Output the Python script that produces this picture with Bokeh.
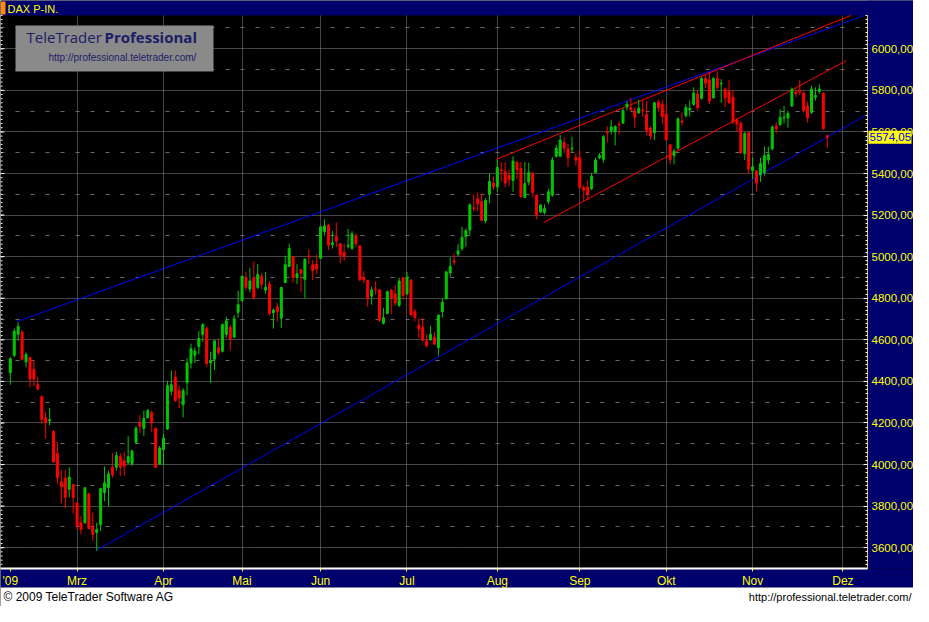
from bokeh.plotting import figure
from bokeh.models import (ColumnDataSource, FixedTicker, Grid, Label,
                          BoxAnnotation, CustomJSTickFormatter, Range1d)
from bokeh.embed import file_html
from bokeh.resources import INLINE

# ---------------- data (trading-day index 0 = 5 Feb 2009) ----------------
opens = [
    4442, 4525, 4626, 4637, 4493, 4515, 4458, 4384, 4327, 4225,
    4210, 4160, 4052, 3917, 3935, 3881, 3904, 3815, 3720, 3719,
    3860, 3698, 3673, 3711, 3865, 3888, 3987, 3987, 4038, 4019,
    4010, 4005, 4107, 4200, 4174, 4225, 4249, 4174, 4002, 4072,
    4171, 4353, 4420, 4356, 4288, 4395, 4489, 4526, 4568, 4626,
    4654, 4489, 4507, 4562, 4545, 4626, 4660, 4613, 4732, 4789,
    4899, 4844, 4899, 4852, 4906, 4839, 4867, 4730, 4758, 4704,
    4875, 4953, 5000, 4899, 4938, 4891, 5003, 4961, 4964, 4992,
    5120, 5151, 5058, 5097, 5062, 5020, 5050, 5039, 5101, 5052,
    4899, 4886, 4810, 4844, 4840, 4680, 4727, 4840, 4821, 4766,
    4899, 4821, 4888, 4735, 4670, 4660, 4595, 4600, 4613, 4563,
    4735, 4797, 4922, 4980, 5012, 5039, 5097, 5128, 5235, 5278,
    5265, 5172, 5299, 5354, 5335, 5418, 5408, 5390, 5366, 5455,
    5424, 5284, 5359, 5402, 5296, 5215, 5213, 5265, 5296, 5483,
    5483, 5549, 5518, 5518, 5476, 5476, 5331, 5335, 5327, 5405,
    5476, 5468, 5600, 5605, 5600, 5638, 5642, 5720, 5717, 5702,
    5691, 5706, 5683, 5619, 5596, 5744, 5733, 5686, 5538, 5486,
    5522, 5652, 5678, 5706, 5733, 5783, 5761, 5857, 5850, 5764,
    5857, 5831, 5806, 5795, 5767, 5658, 5642, 5496, 5597, 5413,
    5413, 5393, 5405, 5465, 5518, 5628, 5634, 5667, 5667, 5725,
    5792, 5801, 5787, 5725, 5694, 5767, 5795, 5787, 5582]
highs = [
    4517, 4654, 4684, 4646, 4540, 4520, 4504, 4422, 4333, 4255,
    4272, 4163, 4108, 3974, 3973, 3987, 3906, 3818, 3753, 3892,
    3862, 3768, 3720, 3888, 3991, 3970, 4054, 4061, 4055, 4061,
    4136, 4072, 4186, 4239, 4260, 4267, 4260, 4177, 4090, 4146,
    4403, 4453, 4453, 4380, 4367, 4512, 4582, 4564, 4641, 4680,
    4665, 4543, 4597, 4607, 4679, 4710, 4673, 4719, 4836, 4908,
    4927, 4945, 4977, 4964, 4922, 4927, 4883, 4751, 4777, 4855,
    5005, 5062, 5002, 4964, 4941, 4992, 5034, 4984, 5011, 5147,
    5179, 5159, 5123, 5164, 5064, 5062, 5133, 5122, 5112, 5054,
    4930, 4888, 4857, 4880, 4844, 4754, 4836, 4842, 4864, 4899,
    4901, 4927, 4890, 4748, 4704, 4704, 4626, 4668, 4638, 4722,
    4800, 4930, 4997, 5016, 5062, 5143, 5136, 5257, 5299, 5309,
    5304, 5281, 5398, 5385, 5465, 5455, 5455, 5421, 5483, 5457,
    5455, 5455, 5452, 5405, 5298, 5251, 5252, 5327, 5479, 5538,
    5585, 5574, 5542, 5577, 5499, 5510, 5343, 5366, 5402, 5476,
    5499, 5585, 5627, 5658, 5631, 5650, 5714, 5748, 5764, 5720,
    5756, 5756, 5748, 5627, 5745, 5756, 5756, 5733, 5542, 5518,
    5670, 5694, 5733, 5751, 5814, 5803, 5865, 5873, 5889, 5865,
    5892, 5854, 5814, 5850, 5800, 5667, 5652, 5600, 5599, 5476,
    5415, 5476, 5530, 5530, 5631, 5647, 5709, 5725, 5702, 5814,
    5811, 5850, 5795, 5745, 5823, 5814, 5829, 5789, 5584]
lows = [
    4384, 4517, 4595, 4500, 4467, 4372, 4376, 4356, 4194, 4124,
    4189, 4008, 3909, 3815, 3789, 3843, 3764, 3687, 3664, 3717,
    3690, 3633, 3585, 3680, 3823, 3800, 3937, 3971, 3945, 3946,
    4002, 3993, 4097, 4152, 4138, 4221, 4155, 3984, 3998, 3998,
    4166, 4333, 4304, 4272, 4227, 4333, 4462, 4489, 4531, 4590,
    4470, 4392, 4454, 4525, 4539, 4610, 4550, 4610, 4707, 4782,
    4836, 4828, 4794, 4844, 4844, 4821, 4716, 4654, 4688, 4657,
    4873, 4950, 4875, 4868, 4829, 4800, 4966, 4888, 4917, 4988,
    5101, 5031, 5039, 5047, 4969, 4980, 5039, 5034, 5047, 4883,
    4871, 4758, 4769, 4816, 4688, 4673, 4723, 4723, 4766, 4758,
    4794, 4816, 4718, 4688, 4610, 4595, 4564, 4595, 4576, 4524,
    4707, 4795, 4903, 4961, 5003, 5028, 5047, 5101, 5218, 5218,
    5172, 5161, 5257, 5320, 5312, 5362, 5335, 5340, 5312, 5374,
    5286, 5282, 5343, 5288, 5179, 5210, 5203, 5252, 5288, 5476,
    5481, 5499, 5432, 5502, 5437, 5329, 5265, 5273, 5320, 5402,
    5468, 5452, 5549, 5589, 5535, 5589, 5639, 5702, 5702, 5620,
    5689, 5674, 5585, 5564, 5561, 5698, 5639, 5559, 5444, 5444,
    5514, 5631, 5670, 5674, 5725, 5702, 5756, 5811, 5733, 5761,
    5803, 5740, 5720, 5736, 5639, 5600, 5497, 5465, 5398, 5374,
    5315, 5359, 5390, 5444, 5511, 5592, 5631, 5642, 5620, 5720,
    5767, 5776, 5694, 5644, 5686, 5751, 5783, 5611, 5522]
closes = [
    4509, 4641, 4665, 4506, 4529, 4411, 4412, 4364, 4217, 4202,
    4216, 4012, 3937, 3893, 3842, 3940, 3842, 3706, 3689, 3888,
    3692, 3664, 3688, 3884, 3912, 3955, 3951, 4043, 3987, 3993,
    4038, 4065, 4174, 4183, 4221, 4259, 4200, 3987, 4080, 4127,
    4380, 4384, 4306, 4320, 4356, 4489, 4557, 4546, 4607, 4673,
    4486, 4501, 4595, 4539, 4673, 4691, 4604, 4701, 4769, 4906,
    4852, 4883, 4805, 4914, 4867, 4852, 4727, 4743, 4735, 4852,
    4961, 5039, 4899, 4918, 4919, 4988, 5000, 4933, 4941, 5143,
    5148, 5055, 5067, 5075, 5008, 5000, 5054, 5109, 5062, 4888,
    4888, 4800, 4840, 4841, 4693, 4707, 4832, 4801, 4777, 4883,
    4813, 4902, 4720, 4707, 4654, 4598, 4571, 4626, 4579, 4719,
    4781, 4927, 4953, 4974, 5028, 5093, 5125, 5249, 5232, 5254,
    5175, 5271, 5362, 5335, 5429, 5413, 5354, 5371, 5460, 5418,
    5288, 5351, 5405, 5309, 5200, 5249, 5231, 5312, 5465, 5522,
    5561, 5522, 5476, 5522, 5465, 5331, 5320, 5299, 5387, 5465,
    5486, 5577, 5596, 5624, 5627, 5635, 5702, 5733, 5706, 5670,
    5714, 5701, 5608, 5580, 5740, 5717, 5674, 5561, 5468, 5507,
    5663, 5647, 5717, 5713, 5787, 5717, 5857, 5834, 5748, 5857,
    5814, 5834, 5764, 5741, 5647, 5639, 5499, 5592, 5421, 5432,
    5354, 5447, 5486, 5491, 5624, 5614, 5670, 5670, 5689, 5806,
    5784, 5792, 5702, 5667, 5806, 5775, 5806, 5616, 5574.05]

month_ticks = [0, 17, 39, 59, 79, 101, 124, 145, 167, 189, 212]
month_labels = ["'09", "Mrz", "Apr", "Mai", "Jun", "Jul", "Aug", "Sep", "Okt", "Nov", "Dez"]
price_ticks = [3600, 3800, 4000, 4200, 4400, 4600, 4800, 5000, 5200, 5400, 5600, 5800, 6000]
half_ticks = [3700, 3900, 4100, 4300, 4500, 4700, 4900, 5100, 5300, 5500, 5700, 5900, 6100]
minor_ticks = list(range(3500, 6161, 20))
last_price = 5574.05
last_price_text = "5574,05"

# trend lines: (trading-day index, index level)
blue_upper_x = [1.7, 217.4]
blue_upper_y = [4688, 6160]
blue_lower_x = [21.8, 218.25]
blue_lower_y = [3586, 5685]
red_upper_x = [123.75, 213.95]
red_upper_y = [5468, 6160]
red_lower_x = [135.8, 212.9]
red_lower_y = [5164, 5943]

# ---------------- geometry ----------------
NAVY = "#00006c"
YELLOW = "#ffff00"
GREEN = "#00c800"
RED = "#ff0000"
SANS = "'Liberation Sans', Arial, sans-serif"

W, H = 913, 606
TOP_PX = 15          # title bar
AXIS_PX = 19         # month-label strip
FOOT_PX = 19         # white footer
RIGHT_PX = 46        # price-label panel
X0, X1 = -2.5, 218.25
Y0, Y1 = 3500, 6160
px_day = (W - RIGHT_PX) / (X1 - X0)
u_px = (Y1 - Y0) / (H - TOP_PX - AXIS_PX - FOOT_PX)
x_range = Range1d(X0, X0 + W / px_day)
y_range = Range1d(Y0 - (AXIS_PX + FOOT_PX) * u_px, Y1 + TOP_PX * u_px)

p = figure(width=W, height=H, x_range=x_range, y_range=y_range,
           output_backend="svg", toolbar_location=None, title=None,
           x_axis_location="below", y_axis_location="right", min_border=0,
           background_fill_color="black", border_fill_color=NAVY, outline_line_color=None)

# grids
p.xgrid.ticker = FixedTicker(ticks=month_ticks[1:])
p.xgrid.grid_line_color = "#8a8a8a"
p.xgrid.grid_line_dash = "1 1"
p.ygrid.grid_line_color = "#8a8a8a"
p.ygrid.grid_line_dash = "1 1"
p.add_layout(Grid(dimension=1, ticker=FixedTicker(ticks=half_ticks),
                  grid_line_color="#6a6a6a", grid_line_dash="4 11"))

# panels (drawn over the grid, under axes and marks)
p.add_layout(BoxAnnotation(left=X1, bottom=Y0, fill_color=NAVY, fill_alpha=1,
                           line_color=None, level="underlay"))
p.add_layout(BoxAnnotation(bottom=Y1, fill_color=NAVY, fill_alpha=1,
                           line_color=None, level="underlay"))
p.add_layout(BoxAnnotation(top=Y0, bottom=FOOT_PX, bottom_units="screen",
                           fill_color=NAVY, fill_alpha=1, line_color=None, level="underlay"))
p.add_layout(BoxAnnotation(top=FOOT_PX, top_units="screen", fill_color="white",
                           fill_alpha=1, line_color=None, level="underlay"))
p.add_layout(BoxAnnotation(left=0, right=5, bottom=H - 14, top=H - 1,
                           left_units="screen", right_units="screen",
                           bottom_units="screen", top_units="screen",
                           fill_color="#ff8c00", fill_alpha=1, line_color=None, level="underlay"))

# x axis (month strip)
xa = p.xaxis[0]
xa.fixed_location = Y0
xa.bounds = (X0, X1)
xa.ticker = FixedTicker(ticks=month_ticks)
xa.major_label_overrides = {k: v for k, v in zip(month_ticks, month_labels)}
xa.axis_line_color = "white"
xa.axis_line_width = 2
xa.major_tick_line_color = YELLOW
xa.major_tick_in = 0
xa.major_tick_out = 3
xa.minor_tick_line_color = None
xa.major_label_text_color = YELLOW
xa.major_label_text_font = SANS
xa.major_label_text_font_size = "12px"
xa.major_label_standoff = 2

# y axis (price panel on the right)
ya = p.yaxis[0]
ya.fixed_location = X1
ya.bounds = (Y0, Y1)
ya.ticker = FixedTicker(ticks=price_ticks, minor_ticks=minor_ticks)
ya.formatter = CustomJSTickFormatter(code="return tick.toFixed(2).replace('.', ',');")
ya.axis_line_color = "#e8c040"
ya.major_tick_line_color = "white"
ya.minor_tick_line_color = "white"
ya.major_tick_in = 4
ya.major_tick_out = 0
ya.minor_tick_in = 2
ya.minor_tick_out = 0
ya.major_label_text_color = YELLOW
ya.major_label_text_font = SANS
ya.major_label_text_font_size = "11.5px"
ya.major_label_standoff = 4

# tick ruler along the left edge
p.segment(x0=X0, x1=X0 + 2 / px_day, y0=minor_ticks, y1=minor_ticks,
          line_color="white", line_width=1)
p.segment(x0=X0, x1=X0 + 4 / px_day, y0=price_ticks, y1=price_ticks,
          line_color="white", line_width=1)

# watermark
p.add_layout(BoxAnnotation(left=15, right=213, top=H - 25, bottom=H - 71,
                           left_units="screen", right_units="screen",
                           top_units="screen", bottom_units="screen",
                           fill_color="#8a8a8a", fill_alpha=1, line_color=None,
                           level="underlay"))
WM = "#1c1c66"
p.add_layout(Label(x=26, y=H - 46, x_units="screen", y_units="screen",
                   text="TeleTrader", text_color=WM, text_font="'Open Sans', sans-serif",
                   text_font_size="15px"))
p.add_layout(Label(x=104, y=H - 46, x_units="screen", y_units="screen",
                   text="Professional", text_color=WM, text_font="'Open Sans', sans-serif",
                   text_font_size="15px", text_font_style="bold"))
p.add_layout(Label(x=48, y=H - 62, x_units="screen", y_units="screen",
                   text="http://professional.teletrader.com/", text_color=WM,
                   text_font=SANS, text_font_size="10px"))

# trend lines
p.line(blue_upper_x, blue_upper_y, line_color="#0000ff", line_width=1)
p.line(blue_lower_x, blue_lower_y, line_color="#0000ff", line_width=1)
p.line(red_upper_x, red_upper_y, line_color=RED, line_width=1)
p.line(red_lower_x, red_lower_y, line_color=RED, line_width=1)

# candles
idx = list(range(len(closes)))
colors = [GREEN if c >= o else RED for o, c in zip(opens, closes)]
src = ColumnDataSource(dict(
    x=idx, high=highs, low=lows,
    top=[max(o, c) for o, c in zip(opens, closes)],
    bottom=[min(o, c) for o, c in zip(opens, closes)],
    color=colors))
p.segment(x0="x", y0="high", x1="x", y1="low", line_color="color", line_width=1, source=src)
p.vbar(x="x", width=0.5, top="top", bottom="bottom", fill_color="color",
       line_color="color", line_width=1, source=src)

# last price marker: yellow box over the price axis, blue text on it
p.add_layout(BoxAnnotation(left=X1 + 1 / px_day, right=X1 + 44 / px_day,
                           bottom=last_price - 6.5 * u_px, top=last_price + 6.5 * u_px,
                           fill_color=YELLOW, fill_alpha=1, line_color=None, level="overlay"))
p.add_layout(Label(x=X1, x_offset=2, y=last_price, text=last_price_text,
                   text_color="#0000ff", text_font=SANS, text_font_size="11.5px",
                   text_baseline="middle", level="overlay"))

# title and footer texts
p.add_layout(Label(x=7, y=H - 8, x_units="screen", y_units="screen", text="DAX P-IN.",
                   text_color=YELLOW, text_font=SANS, text_font_size="11px",
                   text_baseline="middle"))
p.add_layout(Label(x=3, y=FOOT_PX / 2, x_units="screen", y_units="screen",
                   text="\u00a9 2009 TeleTrader Software AG", text_color="black",
                   text_font=SANS, text_font_size="12px", text_baseline="middle"))
p.add_layout(Label(x=W - 2, y=FOOT_PX / 2, x_units="screen", y_units="screen",
                   text="http://professional.teletrader.com/", text_color="black",
                   text_font=SANS, text_font_size="11px", text_baseline="middle",
                   text_align="right"))

open("out.html", "w").write(file_html(p, INLINE))
